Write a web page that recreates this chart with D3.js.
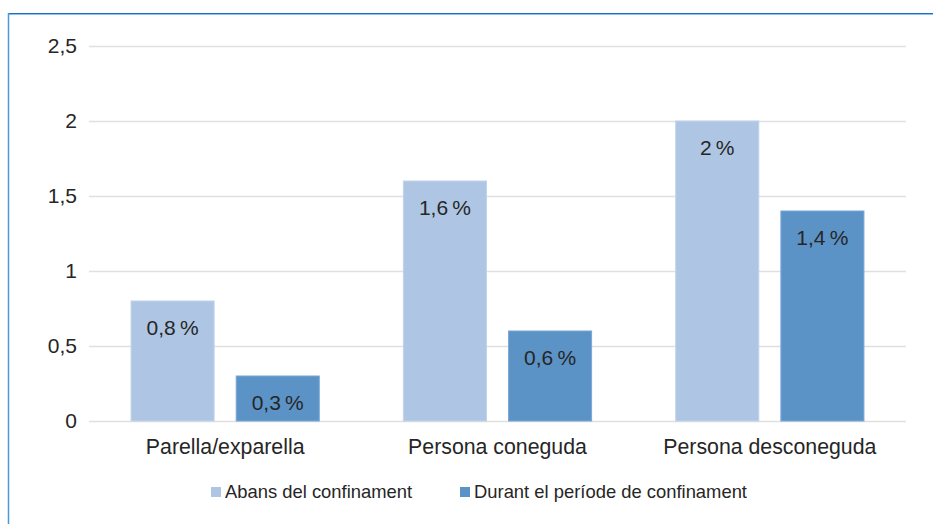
<!DOCTYPE html>
<html>
<head>
<meta charset="utf-8">
<script src="https://cdn.jsdelivr.net/npm/d3@7"></script>
<style>
  body { margin: 0; background: #fff; }
  svg { display: block; font-family: "Liberation Sans", Arial, sans-serif; }
</style>
</head>
<body>
<div id="chart"></div>
<script>
const categories = ['Parella/exparella', 'Persona coneguda', 'Persona desconeguda'];
const seriesNames = ['Abans del confinament', 'Durant el període de confinament'];
const abans = [0.8, 1.6, 2];
const durant = [0.3, 0.6, 1.4];
const yTicks = [0, 0.5, 1, 1.5, 2, 2.5];
const colors = ['#aec6e4', '#5b93c7'];

const width = 933, height = 524;
const margin = { top: 46, right: 27, bottom: 103, left: 89 };

const svg = d3.select('#chart').append('svg')
    .attr('width', width)
    .attr('height', height);

// frame (top and left edges)
svg.append('line').attr('x1', 8).attr('x2', width).attr('y1', 13.5).attr('y2', 13.5)
    .attr('stroke', '#1f6fc0').attr('stroke-width', 1);
svg.append('line').attr('x1', 8).attr('x2', width).attr('y1', 14.5).attr('y2', 14.5)
    .attr('stroke', '#8cc0ee').attr('stroke-width', 1);
svg.append('line').attr('x1', 8.5).attr('x2', 8.5).attr('y1', 13).attr('y2', height)
    .attr('stroke', '#4a98e0').attr('stroke-width', 1.5);

const x0 = d3.scaleBand()
    .domain(categories)
    .range([margin.left, width - margin.right]);

const x1 = d3.scaleBand()
    .domain(seriesNames)
    .range([0, x0.bandwidth()])
    .paddingInner(0.21)
    .paddingOuter(0.4);

const y = d3.scaleLinear()
    .domain([0, 2.5])
    .range([height - margin.bottom, margin.top]);

const fmt = v => String(v).replace('.', ',');

// gridlines
svg.append('g')
    .selectAll('line')
    .data(yTicks)
    .join('line')
    .attr('x1', margin.left)
    .attr('x2', width - margin.right)
    .attr('y1', d => Math.round(y(d)) + 0.5)
    .attr('y2', d => Math.round(y(d)) + 0.5)
    .attr('stroke', '#e0e0e0')
    .attr('stroke-width', 1.5);

// y tick labels
svg.append('g')
    .selectAll('text')
    .data(yTicks)
    .join('text')
    .attr('x', 77)
    .attr('y', d => y(d))
    .attr('dy', '0.35em')
    .attr('text-anchor', 'end')
    .attr('font-size', 21)
    .attr('fill', '#262626')
    .text(fmt);

const rows = categories.map((c, i) => ({ cat: c, values: [abans[i], durant[i]] }));

const groups = svg.append('g')
    .selectAll('g')
    .data(rows)
    .join('g')
    .attr('transform', d => `translate(${x0(d.cat)},0)`);

const bars = groups.selectAll('g')
    .data(d => d.values.map((v, j) => ({ key: seriesNames[j], value: v, j })))
    .join('g');

bars.append('rect')
    .attr('x', d => x1(d.key))
    .attr('width', x1.bandwidth())
    .attr('y', d => y(d.value))
    .attr('height', d => y(0) - y(d.value))
    .attr('fill', d => colors[d.j])
    .attr('stroke', d => d.j === 0 ? '#bfd3ec' : '#79a8d6')
    .attr('stroke-width', 1);

bars.append('text')
    .attr('x', d => x1(d.key) + x1.bandwidth() / 2)
    .attr('y', d => y(d.value) + 34)
    .attr('text-anchor', 'middle')
    .attr('font-size', 21)
    .attr('fill', '#262626')
    .text(d => fmt(d.value) + '\u2009%');

// category labels
svg.append('g')
    .selectAll('text')
    .data(categories)
    .join('text')
    .attr('x', d => x0(d) + x0.bandwidth() / 2)
    .attr('y', 454)
    .attr('text-anchor', 'middle')
    .attr('font-size', 21.3)
    .attr('fill', '#262626')
    .text(d => d);

// legend
const legendX = [211, 460];
const legend = svg.append('g')
    .selectAll('g')
    .data(seriesNames)
    .join('g')
    .attr('transform', (d, i) => `translate(${legendX[i]},487)`);

legend.append('rect')
    .attr('width', 10)
    .attr('height', 10)
    .attr('fill', (d, i) => colors[i]);

legend.append('text')
    .attr('x', 14)
    .attr('y', 11)
    .attr('font-size', 18.4)
    .attr('fill', '#262626')
    .text(d => d);
</script>
</body>
</html>
